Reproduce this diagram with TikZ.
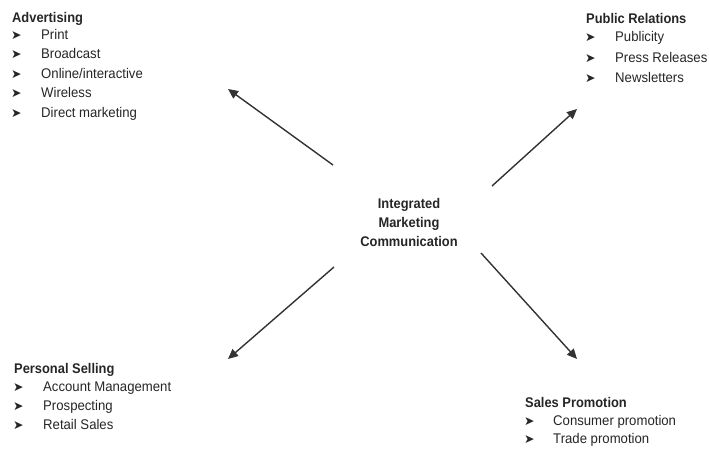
\documentclass[tikz,border=0pt]{standalone}
\usepackage{fontspec}
\setmainfont[FakeStretch=0.94]{Liberation Sans}
\newfontfamily\headfont[FakeStretch=0.92]{Liberation Sans}
\newfontfamily\symfont{DejaVu Sans}
\usetikzlibrary{arrows.meta}

\tikzset{
  x=1pt, y=-1pt,
  head/.style={anchor=base west, inner sep=0pt, font=\fontsize{14}{16}\headfont\bfseries, text=black!85},
  entry/.style={anchor=base west, inner sep=0pt, font=\fontsize{14}{16}\selectfont, text=black!85},
  bul/.style={anchor=base west, inner sep=0pt, font=\fontsize{12.5}{14}\symfont, text=black!85},
  centre/.style={align=center, inner sep=0pt, font=\fontsize{14}{19}\headfont\bfseries, text=black!85},
  link/.style={draw=black!80, line width=1.4pt, -{Triangle[length=10pt,width=9pt]}}
}

\begin{document}
\begin{tikzpicture}
\useasboundingbox (0,0) rectangle (709,450);

% centre label
\node[centre] (imc) at (409,222) {Integrated\\Marketing\\Communication};

% Advertising
\node[head] (adv) at (12,22) {Advertising};
\foreach \t [count=\i] in {Print,Broadcast,Online/interactive,Wireless,Direct marketing}{
  \node[bul] (advb\i) at (11,{20+19.4*\i}) {➤};
  \node[entry] (adv\i) at (41,{20+19.4*\i}) {\t};
}

% Public Relations
\node[head] (pr) at (586,23) {Public Relations};
\foreach \t [count=\i] in {Publicity,Press Releases,Newsletters}{
  \node[bul] (prb\i) at (585,{20.5+20.8*\i}) {➤};
  \node[entry] (pr\i) at (615,{20.5+20.8*\i}) {\t};
}

% Personal Selling
\node[head] (ps) at (14,373) {Personal Selling};
\foreach \t [count=\i] in {Account Management,Prospecting,Retail Sales}{
  \node[bul] (psb\i) at (13,{373+18.7*\i}) {➤};
  \node[entry] (ps\i) at (43,{373+18.7*\i}) {\t};
}

% Sales Promotion
\node[head] (sp) at (525,407) {Sales Promotion};
\foreach \t [count=\i] in {Consumer promotion,Trade promotion}{
  \node[bul] (spb\i) at (524,{407+18*\i}) {➤};
  \node[entry] (sp\i) at (553,{407+18*\i}) {\t};
}

% arrow ends
\coordinate (t1) at (333,165);
\coordinate (h1) at (228,89);
\coordinate (t2) at (492,186);
\coordinate (h2) at (577,109);
\coordinate (t3) at (334,267);
\coordinate (h3) at (228,359);
\coordinate (t4) at (481,253);
\coordinate (h4) at (577,359);

\draw[link] (t1) -- (h1);
\draw[link] (t2) -- (h2);
\draw[link] (t3) -- (h3);
\draw[link] (t4) -- (h4);
\end{tikzpicture}
\end{document}
